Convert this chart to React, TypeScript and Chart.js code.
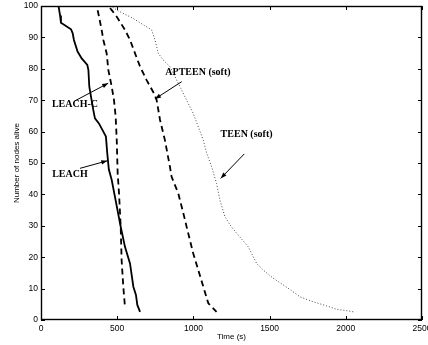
import React, { useEffect, useRef } from "react";
import { Chart, registerables } from "chart.js";

Chart.register(...registerables);

// ---- data (time in s, nodes alive) ----
const leachX = [0, 115, 125, 131, 197, 208, 216, 240, 267, 304, 311, 317, 332, 343, 354, 380, 409, 426, 435, 445, 464, 485, 523, 551, 584, 606, 623, 632, 650];
const leachY = [100, 100, 97, 94.7, 92.6, 91.3, 89.2, 85.5, 83.3, 81.2, 79.6, 74.3, 70, 66.9, 64.2, 62.6, 60, 58.4, 53, 48, 44.6, 39.3, 29.7, 23.3, 18, 10.6, 8, 4.8, 2.6];

const leachCX = [0, 365, 376, 398, 409, 431, 442, 464, 479, 490, 497, 503, 512, 523, 529, 540, 551];
const leachCY = [100, 100, 97.7, 92.4, 89.2, 84.9, 79.6, 74.3, 70, 64.7, 57.3, 46.7, 40.3, 29.7, 19.1, 10.6, 4.2];

const apteenX = [0, 442, 464, 497, 551, 584, 617, 650, 693, 741, 759, 781, 813, 846, 857, 901, 934, 966, 999, 1032, 1065, 1098, 1152];
const apteenY = [100, 100, 98.7, 96.6, 92.4, 89.2, 84.9, 80.7, 76.4, 72.2, 70, 63.7, 57.3, 48.8, 45.6, 40.3, 34, 27.6, 21.2, 15.9, 10.6, 5.3, 2.6];

const teenX = [0, 460, 497, 606, 671, 726, 748, 770, 802, 846, 912, 966, 999, 1032, 1065, 1087, 1120, 1152, 1174, 1207, 1240, 1284, 1360, 1415, 1458, 1524, 1622, 1699, 1786, 1874, 1940, 2005, 2049];
const teenY = [100, 100, 98.7, 96, 94, 92.4, 89.2, 84.9, 82.8, 80.7, 74.3, 69, 65.8, 61.5, 57.3, 53.1, 48.8, 43.5, 38.2, 32.9, 30.3, 27.6, 23.3, 18, 15.9, 13.3, 10.1, 7.4, 5.8, 4.5, 3.4, 3, 2.6];

const seriesNames = ["LEACH", "LEACH-C", "APTEEN (soft)", "TEEN (soft)"];

// axis ticks
const xTicks = [0, 500, 1000, 1500, 2000, 2500];
const yTicks = [0, 10, 20, 30, 40, 50, 60, 70, 80, 90, 100];

// annotations (data coordinates)
const noteText = ["LEACH-C", "LEACH", "APTEEN (soft)", "TEEN (soft)"];
const noteX = [223, 190, 1030, 1349];
const noteY = [68.8, 46.4, 78.7, 59.2];
const arrowFromX = [223, 256, 923, 1334];
const arrowFromY = [69.8, 48.3, 75.9, 52.9];
const arrowToX = [441, 435, 748, 1179];
const arrowToY = [75.4, 50.7, 70.4, 45.1];

const zip = (xs: number[], ys: number[]) => xs.map((x, i) => ({ x, y: ys[i] }));

const framePlugin = {
  id: "frame",
  afterDraw(chart: any) {
    const { ctx, chartArea, scales } = chart;
    const xs = scales.x;
    const ys = scales.y;
    ctx.save();
    ctx.strokeStyle = "#000";
    ctx.lineWidth = 1.4;
    ctx.setLineDash([]);
    ctx.strokeRect(chartArea.left + 0.5, chartArea.top + 0.5, chartArea.right - chartArea.left - 1, chartArea.bottom - chartArea.top - 1);
    ctx.lineWidth = 1;
    const tl = 4;
    ctx.beginPath();
    xTicks.forEach((v) => {
      const px = Math.round(xs.getPixelForValue(v)) + 0.5;
      ctx.moveTo(px, chartArea.bottom);
      ctx.lineTo(px, chartArea.bottom - tl);
      ctx.moveTo(px, chartArea.top);
      ctx.lineTo(px, chartArea.top + tl);
    });
    yTicks.forEach((v) => {
      const py = Math.round(ys.getPixelForValue(v)) + 0.5;
      ctx.moveTo(chartArea.left, py);
      ctx.lineTo(chartArea.left + tl, py);
      ctx.moveTo(chartArea.right, py);
      ctx.lineTo(chartArea.right - tl, py);
    });
    ctx.stroke();

    // annotations
    ctx.font = "bold 10px 'Liberation Serif'";
    ctx.fillStyle = "#000";
    ctx.textAlign = "center";
    ctx.textBaseline = "middle";
    noteText.forEach((t, i) => {
      ctx.fillText(t, xs.getPixelForValue(noteX[i]), ys.getPixelForValue(noteY[i]));
      const x0 = xs.getPixelForValue(arrowFromX[i]);
      const y0 = ys.getPixelForValue(arrowFromY[i]);
      const x1 = xs.getPixelForValue(arrowToX[i]);
      const y1 = ys.getPixelForValue(arrowToY[i]);
      ctx.beginPath();
      ctx.lineWidth = 1;
      ctx.moveTo(x0, y0);
      ctx.lineTo(x1, y1);
      ctx.stroke();
      const a = Math.atan2(y1 - y0, x1 - x0);
      const L = 6, W = 2.2;
      ctx.beginPath();
      ctx.moveTo(x1, y1);
      ctx.lineTo(x1 - L * Math.cos(a) + W * Math.sin(a), y1 - L * Math.sin(a) - W * Math.cos(a));
      ctx.lineTo(x1 - L * Math.cos(a) - W * Math.sin(a), y1 - L * Math.sin(a) + W * Math.cos(a));
      ctx.closePath();
      ctx.fill();
    });
    ctx.restore();
  },
};

export default function App() {
  const ref = useRef<HTMLCanvasElement>(null);
  useEffect(() => {
    if (!ref.current) return;
    const font = "'Liberation Sans', Arial, sans-serif";
    const chart = new Chart(ref.current, {
      type: "scatter",
      data: {
        datasets: [
          { label: seriesNames[0], data: zip(leachX, leachY), showLine: true, borderColor: "#000", borderWidth: 1.8, pointRadius: 0, tension: 0 },
          { label: seriesNames[1], data: zip(leachCX, leachCY), showLine: true, borderColor: "#000", borderWidth: 1.8, borderDash: [6, 4], pointRadius: 0, tension: 0 },
          { label: seriesNames[2], data: zip(apteenX, apteenY), showLine: true, borderColor: "#000", borderWidth: 1.8, borderDash: [6, 4], pointRadius: 0, tension: 0 },
          { label: seriesNames[3], data: zip(teenX, teenY), showLine: true, borderColor: "#444", borderWidth: 1, borderDash: [1, 2], pointRadius: 0, tension: 0 },
        ],
      },
      options: {
        responsive: false,
        animation: false,
        events: [],
        layout: { padding: { top: 6, right: 6, left: 0, bottom: 0 } },
        plugins: { legend: { display: false }, tooltip: { enabled: false } },
        scales: {
          x: {
            type: "linear",
            min: 0,
            max: 2500,
            afterBuildTicks: (s: any) => { s.ticks = xTicks.map((v) => ({ value: v })); },
            afterFit: (s: any) => { s.height = 25; s.paddingLeft = 0; s.paddingRight = 0; },
            grid: { display: false, drawTicks: false },
            border: { display: false },
            ticks: { padding: 4, color: "#000", font: { family: font, size: 8.5 }, maxRotation: 0, autoSkip: false, callback: (v: any) => String(v) },
            title: { display: true, text: "Time (s)", color: "#000", font: { family: font, size: 8 }, padding: { top: 0, bottom: 3 } },
          },
          y: {
            type: "linear",
            min: 0,
            max: 100,
            afterBuildTicks: (s: any) => { s.ticks = yTicks.map((v) => ({ value: v })); },
            afterFit: (s: any) => { s.width = 41; s.paddingTop = 0; s.paddingBottom = 0; },
            grid: { display: false, drawTicks: false },
            border: { display: false },
            ticks: { padding: 3, color: "#000", font: { family: font, size: 8.5 }, autoSkip: false, callback: (v: any) => String(v) },
            title: { display: true, text: "Number of nodes alive", color: "#000", font: { family: font, size: 8 }, padding: { top: 12, bottom: 0 } },
          },
        },
      },
      plugins: [framePlugin],
    } as any);
    return () => chart.destroy();
  }, []);
  return (
    <div style={{ position: "fixed", left: 0, top: 0, width: 428, height: 345, background: "#fff" }}>
      <canvas ref={ref} width={428} height={345} />
    </div>
  );
}
